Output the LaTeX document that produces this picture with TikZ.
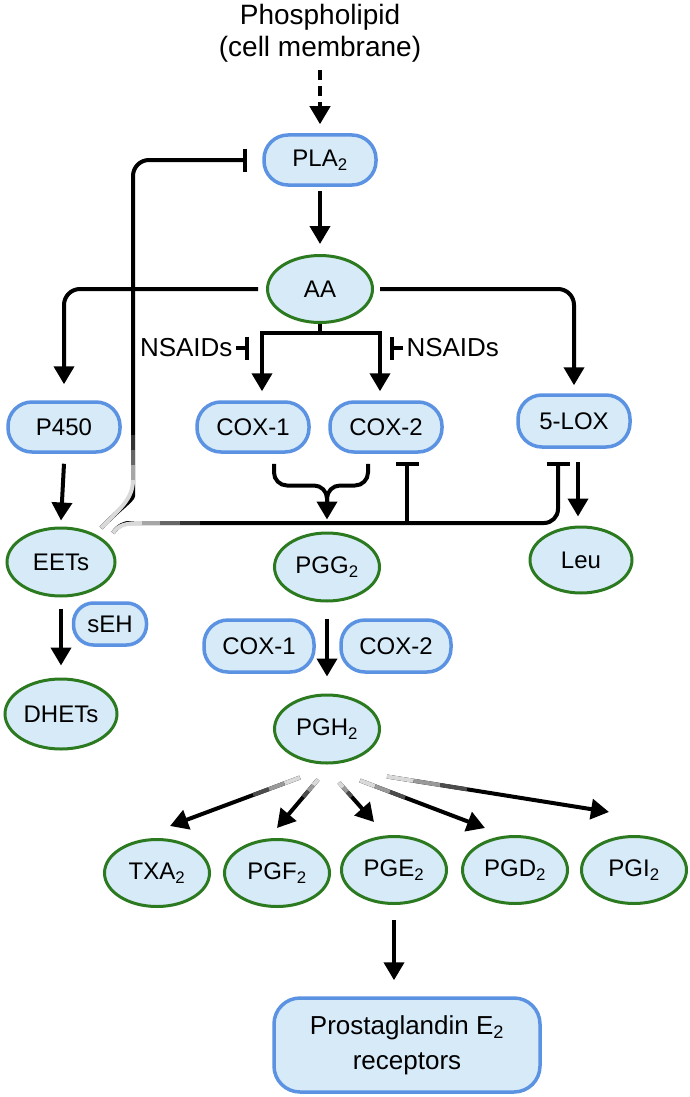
\documentclass[tikz,border=0pt]{standalone}
\usepackage{fontspec}
\setmainfont{Liberation Sans}
\usetikzlibrary{shapes.geometric,arrows.meta,calc}
\definecolor{boxfill}{RGB}{214,234,248}
\definecolor{boxline}{RGB}{92,146,226}
\definecolor{ovline}{RGB}{44,122,32}
\tikzset{
  enz/.style={rectangle, rounded corners=24pt, draw=boxline, fill=boxfill, line width=3.5pt, minimum width=112pt, minimum height=50pt, inner sep=0pt},
  met/.style={ellipse, draw=ovline, fill=boxfill, line width=3pt, minimum width=105pt, minimum height=67pt, inner sep=0pt},
  arr/.style={line width=4pt, -{Triangle[length=18pt,width=20pt]}},
  inh/.style={line width=4pt, -{Bar[width=23pt]}},
  ln/.style={line width=4pt},
}
\begin{document}
\begin{tikzpicture}[x=1pt,y=-1pt,font=\fontsize{24}{28}\selectfont]
\useasboundingbox (0,0) rectangle (690,1097);
% nodes
\node[align=center,font=\fontsize{28}{32}\selectfont] (phos) at (320,33) {Phospholipid\\(cell membrane)};
\node[enz] (pla) at (320,160) {PLA\textsubscript{2}};
\node[met] (aa) at (320,289) {AA};
\node[enz] (p450) at (64,427) {P450};
\node[enz] (cox1) at (253,427) {COX-1};
\node[enz] (cox2) at (386,427) {COX-2};
\node[enz, minimum height=52pt] (lox) at (574,421) {5-LOX};
\node[anchor=east, font=\fontsize{26}{30}\selectfont] (nsl) at (236,348) {NSAIDs};
\node[anchor=west, font=\fontsize{26}{30}\selectfont] (nsr) at (403,348) {NSAIDs};
\node[met, minimum width=108pt, minimum height=68pt] (eets) at (61,562) {EETs};
\node[met, minimum height=68pt] (pgg) at (327,567) {PGG\textsubscript{2}};
\node[met, minimum width=102pt, minimum height=66pt] (leu) at (581,560) {Leu};
\node[enz, minimum width=73pt, minimum height=42pt, rounded corners=20pt] (seh) at (110,624) {sEH};
\node[met, minimum width=112pt, minimum height=70pt] (dhets) at (61,714) {DHETs};
\node[enz, minimum width=110pt, minimum height=52pt] (cox1b) at (259,646) {COX-1};
\node[enz, minimum width=110pt, minimum height=52pt] (cox2b) at (396,646) {COX-2};
\node[met, minimum height=68pt] (pgh) at (327,729) {PGH\textsubscript{2}};
\node[met] (txa) at (157,873) {TXA\textsubscript{2}};
\node[met] (pgf) at (277,873) {PGF\textsubscript{2}};
\node[met] (pge) at (394,870) {PGE\textsubscript{2}};
\node[met] (pgd) at (515,870) {PGD\textsubscript{2}};
\node[met] (pgi) at (634,870) {PGI\textsubscript{2}};
\node[enz, minimum width=266pt, minimum height=94pt, rounded corners=26pt, align=center, font=\fontsize{26}{35}\selectfont] (rec) at (407,1045) {Prostaglandin E\textsubscript{2}\\receptors};
% top
\draw[arr, dash pattern=on 10pt off 6pt] ([yshift=-4pt]phos.south) -- ([yshift=9pt]pla.north);
\draw[arr] ([yshift=-4pt]pla.south) -- ([yshift=10pt]aa.north);
\draw[arr, rounded corners=16pt] ([xshift=-8pt]aa.west) -| ([yshift=16pt]p450.north);
\draw[arr, rounded corners=16pt] ([xshift=6pt]aa.east) -| ([yshift=8pt]lox.north);
\coordinate (split) at ([yshift=-9pt]aa.south);
\draw[ln] (aa.south) -- (split);
\draw[arr] (split) -| ([xshift=9pt,yshift=9pt]cox1.north);
\draw[arr] (split) -| ([xshift=-6pt,yshift=9pt]cox2.north);
\draw[inh] (nsl.east) -- ++(13,0);
\draw[inh] (nsr.west) -- ++(-13,0);
% middle
\draw[arr] ([yshift=-10pt]p450.south) -- ([yshift=6pt]eets.north);
\coordinate (merge) at ([yshift=46pt]pgg.north);
\draw[arr, rounded corners=13pt] ([xshift=21pt,yshift=-10pt]cox1.south) |- (merge) -- ([yshift=12pt]pgg.north);
\draw[ln, rounded corners=13pt] ([xshift=-18pt,yshift=-10pt]cox2.south) |- (merge) -- ([yshift=24pt]pgg.north);
\draw[arr] ([xshift=4pt,yshift=-13pt]lox.south) -- ([xshift=-3pt,yshift=9pt]leu.north);
% EETs feedback
\coordinate (eout) at ([shift={(52pt,29pt)}]eets.center);
\coordinate (eup) at ([shift={(40pt,34pt)}]eets.center);
\coordinate (ebar) at (142,523);
\coordinate (loxinh) at ([xshift=-16pt,yshift=-13pt]lox.south);
\coordinate (cox2inh) at ([xshift=21pt,yshift=-8pt]cox2.south);
\coordinate (plainh) at ([xshift=-15pt]pla.west);
\draw[inh, rounded corners=14pt] (eout) .. controls (118,525) and (126,523) .. (ebar) -| (loxinh);
\draw[inh] (ebar -| cox2inh) -- (cox2inh);
\draw[inh, rounded corners=16pt] (eup) .. controls (118,510) and (133,500) .. (133,480) |- (plainh);
\draw[ln, black!15] (eout) .. controls (118,525) and (126,523) .. (ebar);
\draw[ln, black!35] (ebar) -- (160,523);
\draw[ln, black!60] (160,523) -- (180,523);
\draw[ln, black!80] (180,523) -- (200,523);
\draw[ln, black!15] (eup) .. controls (118,510) and (133,500) .. (133,480);
\draw[ln, black!35] (133,480) -- (133,465);
\draw[ln, black!60] (133,465) -- (133,450);
\draw[ln, black!80] (133,450) -- (133,435);
% lower
\draw[arr] ([yshift=-11pt]eets.south) -- ([yshift=12pt]dhets.north);
\draw[arr] ([yshift=-16pt]pgg.south) -- ([yshift=17pt]pgh.north);
\foreach \p/\sx/\sy/\ex/\ey in {txa/-27/-13/13/12, pgf/-9/-15/0/10, pge/12/-18/-20/13, pgd/33/-16/-30/7, pgi/60/-12/-25/23}{
  \coordinate (S) at ([shift={(\sx pt,\sy pt)}]pgh.south);
  \coordinate (E) at ([shift={(\ex pt,\ey pt)}]\p.north);
  \draw[arr] (S) -- (E);
  \foreach \a/\b/\shd in {0/0.12/15, 0.12/0.24/40, 0.24/0.36/70}
    \draw[ln, black!\shd] ($(S)!\a!(E)$) -- ($(S)!\b!(E)$);
}
\draw[arr] ([yshift=-15pt]pge.south) -- ([xshift=-13pt,yshift=16pt]rec.north);
\end{tikzpicture}
\end{document}
